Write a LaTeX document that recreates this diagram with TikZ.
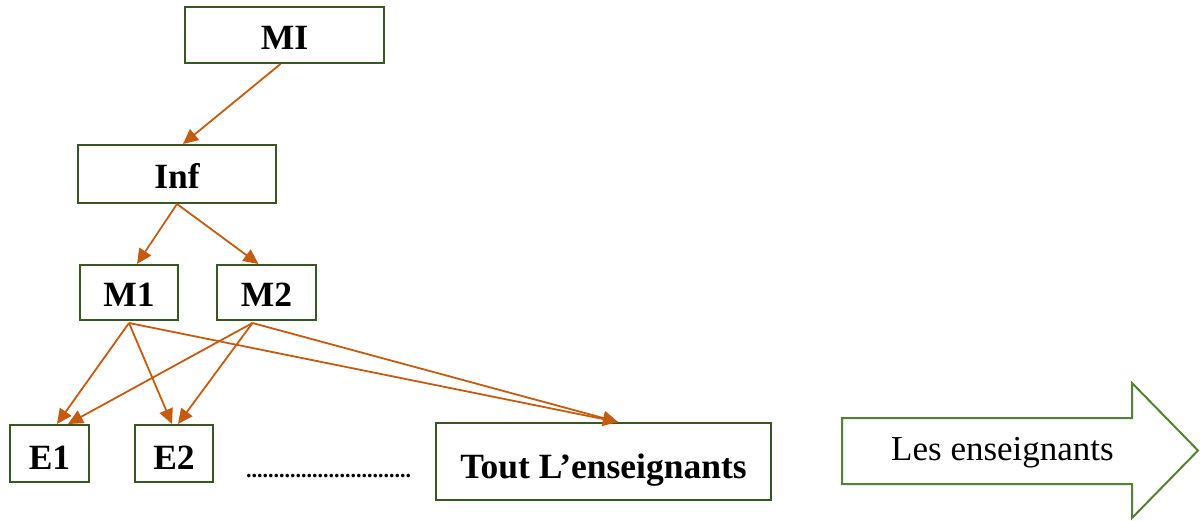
\documentclass[tikz,border=0pt]{standalone}
\usepackage{fontspec}
\setmainfont{Liberation Serif}
\usetikzlibrary{arrows.meta}
\definecolor{boxgreen}{RGB}{56,87,35}
\definecolor{arrowgreen}{RGB}{84,130,53}
\definecolor{linkorange}{RGB}{197,90,17}
\begin{document}
\begin{tikzpicture}[x=1pt,y=-1pt,
  box/.style={draw=boxgreen,line width=2pt,fill=white,inner sep=0pt,
    text height=28.5pt,text depth=0pt,
    font=\fontsize{35.5}{40}\selectfont\bfseries},
  link/.style={draw=linkorange,line width=1.8pt,
    -{Triangle[length=15pt,width=14pt]}},
]
\useasboundingbox (0,0) rectangle (1202,521);

% hierarchy boxes
\node[box,minimum width=199pt,minimum height=56pt] (mi)  at (284.5,35)   {MI};
\node[box,minimum width=198pt,minimum height=58pt] (inf) at (177,174)    {Inf};
\node[box,minimum width=98pt, minimum height=55pt] (m1)  at (129,292.5)  {M1};
\node[box,minimum width=99pt, minimum height=55pt] (m2)  at (266.5,292.5){M2};
\node[box,minimum width=79pt, minimum height=57pt,text height=31pt] (e1)  at (49.5,453.5) {E1};
\node[box,minimum width=78pt, minimum height=57pt,text height=31pt] (e2)  at (174,453.5)  {E2};
\node[box,minimum width=335pt,minimum height=77pt,text height=33pt] (all) at (603.5,461.5)
  {Tout L’enseignants};

% ellipsis between the teacher boxes
\node[inner sep=0pt,anchor=base,font=\fontsize{22}{26}\selectfont\bfseries] (dots) at (328.5,477)
  {..............................};

% links
\draw[link] ([xshift=-4pt]mi.south) -- ([xshift=6pt]inf.north);
\draw[link] (inf.south) -- ([xshift=8pt]m1.north);
\draw[link] (inf.south) -- ([xshift=-8pt]m2.north);

\draw[link] ([yshift=-2pt]m1.south) -- ([xshift=7.5pt]e1.north);
\draw[link] ([yshift=-2pt]m1.south) -- ([xshift=-2pt]e2.north);
\draw[link] ([yshift=-2pt]m1.south) -- ([xshift=14.5pt]all.north);

\draw[link] ([xshift=-14pt,yshift=-2pt]m2.south) -- ([xshift=18.5pt]e1.north);
\draw[link] ([xshift=-14pt,yshift=-2pt]m2.south) -- ([xshift=4pt]e2.north);
\draw[link] ([xshift=-14pt,yshift=-2pt]m2.south) -- ([xshift=14.5pt]all.north);

% block arrow with caption
\draw[draw=arrowgreen,line width=2pt,fill=white,line join=miter]
  (842,418) -- (1132,418) -- (1132,383) -- (1198,450.5) -- (1132,518)
  -- (1132,484) -- (842,484) -- cycle;
\node[inner sep=0pt,anchor=base,font=\fontsize{35}{40}\selectfont] (teach) at (1002.5,460)
  {Les enseignants};
\end{tikzpicture}
\end{document}
